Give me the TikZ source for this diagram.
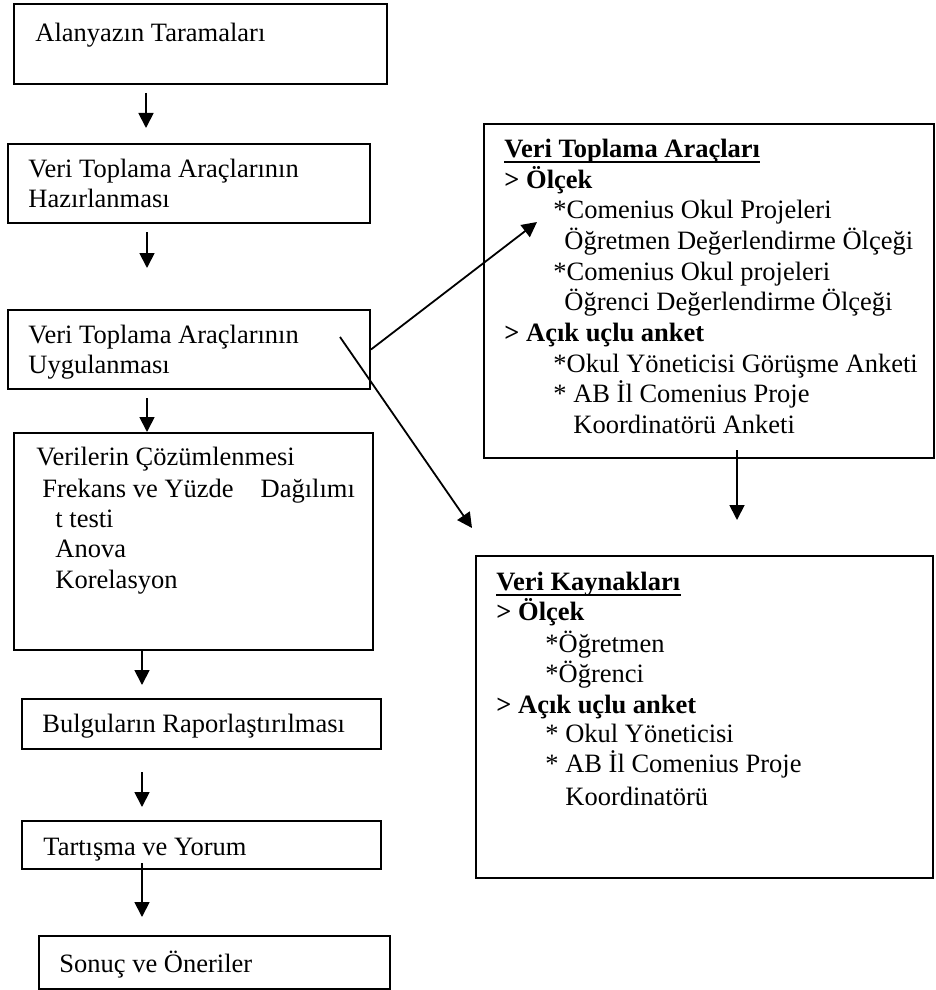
\documentclass[tikz,border=0pt]{standalone}
\usepackage{fontspec}
\setmainfont{Liberation Serif}
\usetikzlibrary{arrows.meta}
\begin{document}
\begin{tikzpicture}[x=0.5pt,y=-0.5pt,
  box/.style={draw, line width=1pt, inner sep=0pt, anchor=north west},
  txt/.style={anchor=base west, inner sep=0pt, font=\fontsize{13.25}{15}\selectfont},
  btxt/.style={anchor=base west, inner sep=0pt, font=\fontsize{13.25}{15}\selectfont\bfseries},
  arr/.style={line width=0.9pt, -{Triangle[length=7.5pt,width=7.5pt]}},
  uline/.style={line width=1pt}]
\useasboundingbox (0,0) rectangle (936,990);

% left column boxes
\node[box, minimum width=186.5pt, minimum height=40pt] (b1) at (13,3) {};
\node[box, minimum width=181pt, minimum height=39.5pt] (b2) at (7,143) {};
\node[box, minimum width=181pt, minimum height=39.5pt] (b3) at (7,309) {};
\node[box, minimum width=179.5pt, minimum height=108.5pt] (b4) at (13,432) {};
\node[box, minimum width=179.5pt, minimum height=25pt] (b5) at (21,698) {};
\node[box, minimum width=179.5pt, minimum height=24pt] (b6) at (21,820) {};
\node[box, minimum width=175.5pt, minimum height=26.5pt] (b7) at (38,935) {};

% right boxes
\node[box, minimum width=225pt, minimum height=167pt] (vta) at (483,123) {};
\node[box, minimum width=228.5pt, minimum height=161pt] (vk) at (475,555) {};

% texts left column
\node[txt] (t1) at (35,42) {Alanyazın Taramaları};
\node[txt] (t2a) at (28,177) {Veri Toplama Araçlarının};
\node[txt] (t2b) at (28,207) {Hazırlanması};
\node[txt] (t3a) at (28,343) {Veri Toplama Araçlarının};
\node[txt] (t3b) at (28,373) {Uygulanması};
\node[txt] (t4a) at (36,465) {Verilerin Çözümlenmesi};
\node[txt] (t4b) at (42,497) {Frekans ve Yüzde\hspace{13.5pt}Dağılımı};
\node[txt] (t4c) at (55,527) {t testi};
\node[txt] (t4d) at (55,557) {Anova};
\node[txt] (t4e) at (55,588) {Korelasyon};
\node[txt] (t5) at (42,732) {Bulguların Raporlaştırılması};
\node[txt] (t6) at (43,855) {Tartışma ve Yorum};
\node[txt] (t7) at (59,972) {Sonuç ve Öneriler};

% texts VTA
\node[btxt] (v0) at (504,157) {Veri Toplama Araçları};
\draw[uline] ([yshift=-2.5pt]v0.base west) -- ([yshift=-2.5pt]v0.base east);
\node[btxt] (v1) at (504,188) {> Ölçek};
\node[txt] (v2) at (553,218) {*Comenius Okul Projeleri};
\node[txt] (v3) at (564,249) {Öğretmen Değerlendirme Ölçeği};
\node[txt] (v4) at (553,280) {*Comenius Okul projeleri};
\node[txt] (v5) at (564,310) {Öğrenci Değerlendirme Ölçeği};
\node[btxt] (v6) at (504,341) {> Açık uçlu anket};
\node[txt] (v7) at (553,372) {*Okul Yöneticisi Görüşme Anketi};
\node[txt] (v8) at (553,402) {* AB İl Comenius Proje};
\node[txt] (v9) at (573,433) {Koordinatörü Anketi};

% texts VK
\node[btxt] (k0) at (496,590) {Veri Kaynakları};
\draw[uline] ([yshift=-2.5pt]k0.base west) -- ([yshift=-2.5pt]k0.base east);
\node[btxt] (k1) at (496,620) {> Ölçek};
\node[txt] (k2) at (545,652) {*Öğretmen};
\node[txt] (k3) at (545,682) {*Öğrenci};
\node[btxt] (k4) at (496,713) {> Açık uçlu anket};
\node[txt] (k5) at (545,742) {* Okul Yöneticisi};
\node[txt] (k6) at (545,772) {* AB İl Comenius Proje};
\node[txt] (k7) at (565,805) {Koordinatörü};

% arrow end points
\coordinate (a1s) at (146,93);  \coordinate (a1e) at (146,128);
\coordinate (a2s) at (147,232); \coordinate (a2e) at (147,268);
\coordinate (a3s) at (147,398); \coordinate (a3e) at (147,432);
\coordinate (a4s) at (142,650); \coordinate (a4e) at (142,685);
\coordinate (a5s) at (142,772); \coordinate (a5e) at (142,807);
\coordinate (a6s) at (142,863); \coordinate (a6e) at (142,917);
\coordinate (d1e) at (537,222);
\coordinate (d2s) at (340,337); \coordinate (d2e) at (472,528);
\coordinate (a7s) at (737,450); \coordinate (a7e) at (737,520);

\draw[arr] (a1s) -- (a1e);
\draw[arr] (a2s) -- (a2e);
\draw[arr] (a3s) -- (a3e);
\draw[arr] (a4s) -- (a4e);
\draw[arr] (a5s) -- (a5e);
\draw[arr] (a6s) -- (a6e);
\draw[arr] (b3.east) -- (d1e);
\draw[arr] (d2s) -- (d2e);
\draw[arr] (a7s) -- (a7e);
\end{tikzpicture}
\end{document}
